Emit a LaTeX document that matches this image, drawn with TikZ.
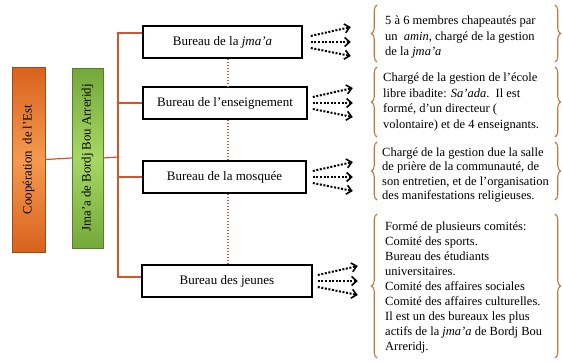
\documentclass[tikz,border=0pt]{standalone}
\usepackage{fontspec}
\setmainfont{Liberation Serif}
\usetikzlibrary{arrows.meta,decorations.pathreplacing}
\definecolor{brc}{HTML}{D4552B}
\definecolor{bracec}{HTML}{C4773F}
\definecolor{ol}{HTML}{F59A50}
\definecolor{od}{HTML}{D8621E}
\definecolor{gl}{HTML}{A6D866}
\definecolor{gd}{HTML}{74A83A}
\tikzset{
  bureau/.style={draw=black, line width=1.6pt, fill=white, minimum height=32pt, inner sep=0pt, font=\fontsize{13}{15}\selectfont},
  vbox/.style={rotate=90, inner sep=0pt, font=\fontsize{12.8}{15}\selectfont},
  brline/.style={draw=brc, line width=1.2pt},
  dotline/.style={draw=brc, line width=1.4pt, dash pattern=on 1.4pt off 1.6pt},
  dotarr/.style={line width=2pt, dash pattern=on 2pt off 1.6pt, -{Straight Barb[length=5pt,width=9pt,line width=1.6pt]}},
  bracestyle/.style={draw=bracec, line width=1.1pt, decorate, decoration={brace, amplitude=5.5pt}},
  desc/.style={anchor=west, align=left, inner sep=0pt, font=\fontsize{12.5}{15.5}\selectfont}
}
\begin{document}
\begin{tikzpicture}[x=1pt,y=-1pt]
\useasboundingbox (0,0) rectangle (563,362);

% vertical boxes
\node[vbox, minimum width=185pt, minimum height=33pt, top color=od, bottom color=od, middle color=ol, draw=od!75!black, line width=0.5pt] (coop) at (28.5,159.5) {Coopération\ \ de l’Est};
\node[vbox, minimum width=180pt, minimum height=31pt, top color=gd, bottom color=gd, middle color=gl, draw=gd!75!black, line width=0.5pt] (jma) at (87.5,158) {Jma’a de Bordj Bou Arreridj};

% bureau boxes
\node[bureau, minimum width=159pt] (b1) at (222.5,42) {Bureau de la \textit{jma’a}};
\node[bureau, minimum width=164pt] (b2) at (225,103) {Bureau de l’enseignement};
\node[bureau, minimum width=163pt] (b3) at (224.5,177) {Bureau de la mosquée};
\node[bureau, minimum width=170pt] (b4) at (227,281) {Bureau des jeunes};

% bracket
\coordinate (bk) at (118,157);
\draw[brline] (coop.south) -- (jma.north);
\draw[brline] (jma.south) -- (bk);
\draw[brline] ([yshift=9pt]b1.west) -| (bk) |- ([yshift=4pt]b4.west);
\draw[brline] (b2.west) -- (bk |- b2.west);
\draw[brline] (b3.west) -- (bk |- b3.west);

% dotted vertical links
\draw[dotline] (b1.south -| 228,0) -- (b2.north -| 228,0);
\draw[dotline] (b2.south -| 228,0) -- (b3.north -| 228,0);
\draw[dotline] (b3.south -| 228,0) -- (b4.north -| 228,0);

% arrows
\foreach \b/\d in {b1/8, b2/5, b3/6, b4/5}{
  \coordinate (\b s) at ([xshift=\d pt]\b.east);
  \coordinate (\b e) at ([xshift={\d pt+40pt}]\b.east);
  \draw[dotarr] ([yshift=6pt]\b s) -- ([yshift=15pt]\b e);
  \draw[dotarr] (\b s) -- (\b e);
  \draw[dotarr] ([yshift=-6pt]\b s) -- ([yshift=-14pt]\b e);
}

% braces
\draw[bracestyle] (377,62) -- (377,5);
\draw[bracestyle] (555,5) -- (555,62);
\draw[bracestyle] (377,137) -- (377,67);
\draw[bracestyle] (555,67) -- (555,137);
\draw[bracestyle] (377,200) -- (377,142);
\draw[bracestyle] (555,142) -- (555,200);
\draw[bracestyle] (377,358) -- (377,214);
\draw[bracestyle] (555,214) -- (555,358);

% descriptions
\node[desc] (t1) at (385,37) {5 à 6 membres chapeautés par\\un\ \ \textit{amin}, chargé de la gestion\\de la \textit{jma’a}};
\node[desc] (t2) at (383,102) {Chargé de la gestion de l’école\\libre ibadite: \textit{Sa’ada}.\ \ Il est\\formé, d’un directeur (\\volontaire) et de 4 enseignants.};
\node[desc, font=\fontsize{12.5}{14.5}\selectfont] (t3) at (382,175) {Chargé de la gestion due la salle\\de prière de la communauté, de\\son entretien, et de l’organisation\\des manifestations religieuses.};
\node[desc, font=\fontsize{12.5}{15}\selectfont] (t4) at (385,287) {Formé de plusieurs comités:\\Comité des sports.\\Bureau des étudiants\\universitaires.\\Comité des affaires sociales\\Comité des affaires culturelles.\\Il est un des bureaux les plus\\actifs de la \textit{jma’a} de Bordj Bou\\Arreridj.};
\end{tikzpicture}
\end{document}
